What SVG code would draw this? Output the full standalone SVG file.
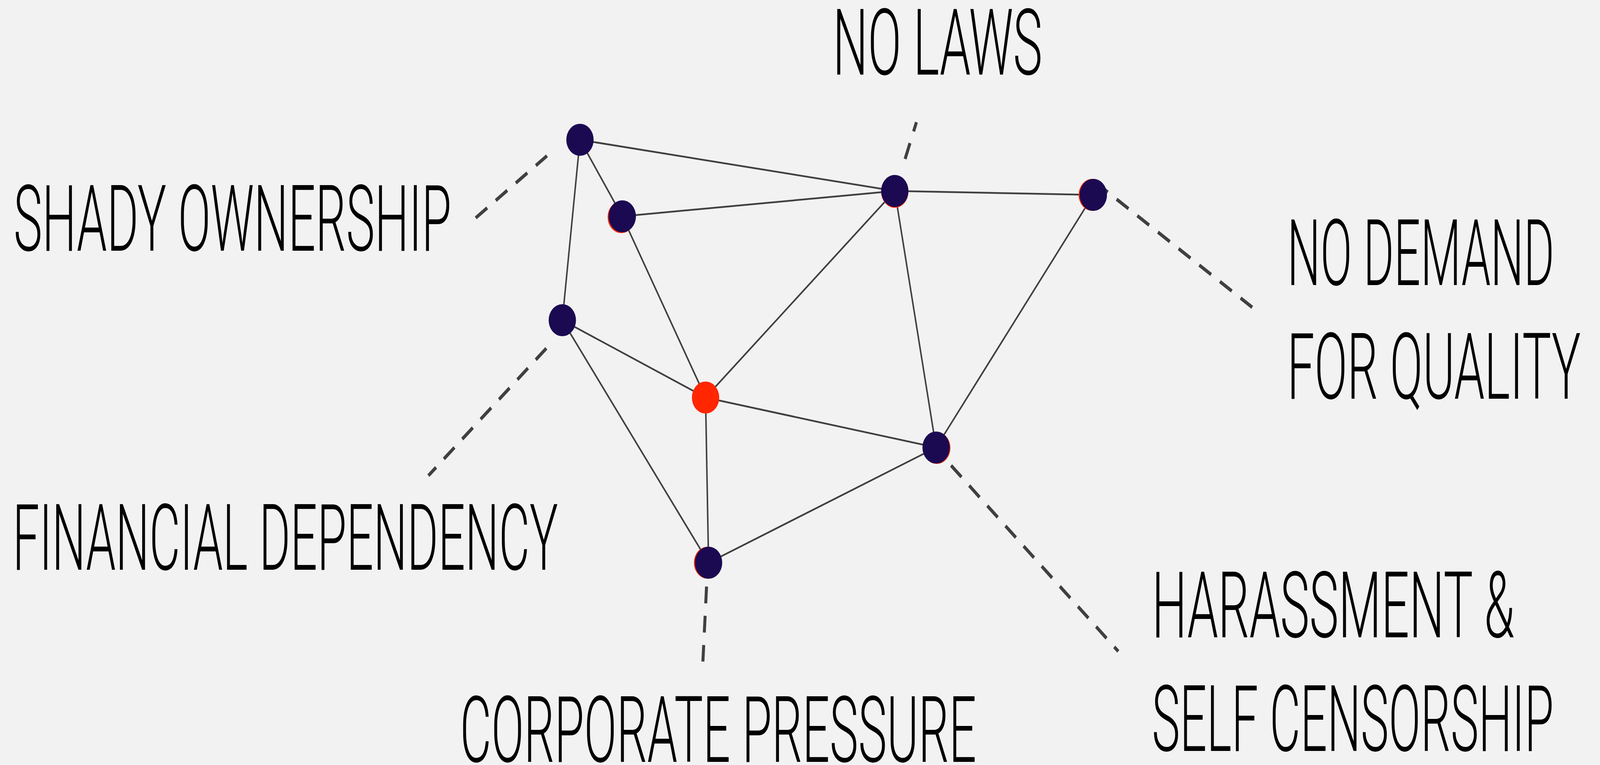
<svg xmlns="http://www.w3.org/2000/svg" width="4803" height="1959" viewBox="0 0 4803 1959" preserveAspectRatio="none">
<style>
:root{width:100vw;height:100vh;background:#f2f2f2}
.edge{stroke:#404040;stroke-width:4.5;fill:none}
.dash{stroke:#404040;stroke-width:9;fill:none;stroke-dasharray:43 32}
.node{fill:#1b0952}
.hot{fill:#ff2600}
.rim{fill:#ff2600}
.lbl{font-family:Roboto,"Liberation Sans",sans-serif;font-weight:300;font-size:236px;fill:#000}
</style>
<rect width="4803" height="1959" fill="#f2f2f2"/>
<g id="connectors">
<line class="edge" x1="1741" y1="358" x2="2686" y2="489"/>
<line class="edge" x1="1741" y1="358" x2="1868" y2="554"/>
<line class="edge" x1="1741" y1="358" x2="1688" y2="820"/>
<line class="edge" x1="1868" y1="554" x2="2686" y2="489"/>
<line class="edge" x1="1868" y1="554" x2="2118" y2="1018"/>
<line class="edge" x1="2686" y1="489" x2="3282" y2="499"/>
<line class="edge" x1="2686" y1="489" x2="2118" y2="1018"/>
<line class="edge" x1="2686" y1="489" x2="2810" y2="1146"/>
<line class="edge" x1="3282" y1="499" x2="2810" y2="1146"/>
<line class="edge" x1="1688" y1="820" x2="2118" y2="1018"/>
<line class="edge" x1="1688" y1="820" x2="2127" y2="1441"/>
<line class="edge" x1="2118" y1="1018" x2="2810" y2="1146"/>
<line class="edge" x1="2118" y1="1018" x2="2127" y2="1441"/>
<line class="edge" x1="2127" y1="1441" x2="2810" y2="1146"/>
<line class="dash" x1="1428" y1="558" x2="1642" y2="399"/>
<line class="dash" x1="2717" y1="407" x2="2751" y2="313"/>
<line class="dash" x1="3290" y1="468" x2="3759" y2="787"/>
<line class="dash" x1="1640" y1="892" x2="1286" y2="1218"/>
<line class="dash" x1="2855" y1="1192" x2="3357" y2="1668"/>
<line class="dash" x1="2121" y1="1502" x2="2110" y2="1694"/>
</g>
<g id="node-shady"><circle class="node" cx="1741" cy="358" r="41"/></g>
<g id="node-b"><circle class="rim" cx="1865" cy="556" r="41"/><circle class="node" cx="1868" cy="554" r="41"/></g>
<g id="node-nolaws"><circle class="rim" cx="2686" cy="491" r="41"/><circle class="node" cx="2686" cy="489" r="41"/></g>
<g id="node-demand"><circle class="rim" cx="3279" cy="499" r="41"/><circle class="node" cx="3282" cy="499" r="41"/></g>
<g id="node-financial"><circle class="node" cx="1688" cy="820" r="41"/></g>
<g id="node-center"><circle class="hot" cx="2118" cy="1018" r="41"/></g>
<g id="node-harassment"><circle class="rim" cx="2812" cy="1147" r="41"/><circle class="node" cx="2810" cy="1146" r="41"/></g>
<g id="node-corporate"><circle class="rim" cx="2124" cy="1441" r="41"/><circle class="node" cx="2127" cy="1441" r="41"/></g>
<g id="labels">
<text class="lbl" x="41" y="642" textLength="1314" lengthAdjust="spacingAndGlyphs">SHADY OWNERSHIP</text>
<text class="lbl" x="2500" y="191" textLength="629" lengthAdjust="spacingAndGlyphs">NO LAWS</text>
<text class="lbl" x="3864" y="730" textLength="802" lengthAdjust="spacingAndGlyphs">NO DEMAND</text>
<text class="lbl" x="3864" y="1021" textLength="881" lengthAdjust="spacingAndGlyphs">FOR QUALITY</text>
<text class="lbl" x="38" y="1459" textLength="1637" lengthAdjust="spacingAndGlyphs">FINANCIAL DEPENDENCY</text>
<text class="lbl" x="3458" y="1632" textLength="1088" lengthAdjust="spacingAndGlyphs">HARASSMENT &amp;</text>
<text class="lbl" x="3458" y="1923" textLength="1206" lengthAdjust="spacingAndGlyphs">SELF CENSORSHIP</text>
<text class="lbl" x="1381" y="1951" textLength="1550" lengthAdjust="spacingAndGlyphs">CORPORATE PRESSURE</text>
</g>
</svg>
